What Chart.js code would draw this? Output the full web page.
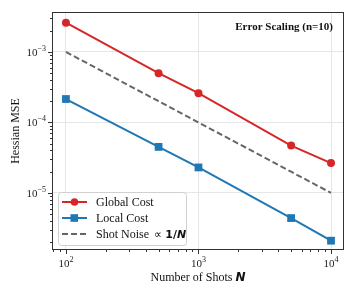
<!DOCTYPE html>
<html>
<head>
<meta charset="utf-8">
<script src="https://cdn.jsdelivr.net/npm/chart.js@4.4.1/dist/chart.umd.min.js"></script>
<style>
  html, body { margin: 0; padding: 0; background: #fff; }
  #wrap { width: 357px; height: 297px; }
</style>
</head>
<body>
<div id="wrap"><canvas id="chart" width="357" height="297"></canvas></div>
<script>
// Error scaling of Hessian MSE vs number of shots
const shots = [100, 500, 1000, 5000, 10000];
const globalCost = [2.6e-3, 5.0e-4, 2.6e-4, 4.7e-5, 2.65e-5];
const localCost = [2.15e-4, 4.5e-5, 2.3e-5, 4.4e-6, 2.1e-6];
const shotNoise = [1e-3, 2e-4, 1e-4, 2e-5, 1e-5];

const xTicks = [100, 1000, 10000];
const xTickExp = ['2', '3', '4'];
const yTicks = [1e-5, 1e-4, 1e-3];
const yTickExp = ['\u22125', '\u22124', '\u22123'];

const RED = '#d62728';
const BLUE = '#1f77b4';
const GRAY = '#666666';
const SERIF = '"Liberation Serif", "DejaVu Serif", serif';
const SANS = '"DejaVu Sans", sans-serif';

const toPoints = (ys) => shots.map((x, i) => ({ x: x, y: ys[i] }));

function isDecade(v) {
    const l = Math.log10(v);
    return Math.abs(l - Math.round(l)) < 1e-9;
}

// draws frame, ticks, labels, titles, legend (matplotlib-like)
const decorPlugin = {
    id: 'decor',
    afterDraw(chart) {
        const ctx = chart.ctx;
        const a = chart.chartArea;
        const xs = chart.scales.x;
        const ys = chart.scales.y;
        ctx.save();

        // frame
        ctx.strokeStyle = '#333';
        ctx.lineWidth = 1;
        ctx.strokeRect(a.left + 0.5, a.top + 0.5, a.right - a.left - 1, a.bottom - a.top - 1);

        // ticks
        ctx.beginPath();
        for (let e = 1; e <= 4; e++) {
            for (let m = 1; m <= 9; m++) {
                const v = m * Math.pow(10, e);
                if (v < xs.min || v > xs.max) continue;
                const px = Math.round(xs.getPixelForValue(v)) + 0.5;
                const len = m === 1 ? 4 : 2;
                ctx.moveTo(px, a.bottom);
                ctx.lineTo(px, a.bottom + len);
            }
        }
        for (let e = -6; e <= -2; e++) {
            for (let m = 1; m <= 9; m++) {
                const v = m * Math.pow(10, e);
                if (v < ys.min || v > ys.max) continue;
                const py = Math.round(ys.getPixelForValue(v)) + 0.5;
                const len = m === 1 ? 4 : 2;
                ctx.moveTo(a.left, py);
                ctx.lineTo(a.left - len, py);
            }
        }
        ctx.stroke();

        // tick labels
        ctx.fillStyle = '#222';
        ctx.textBaseline = 'alphabetic';
        xTicks.forEach((v, i) => {
            const px = xs.getPixelForValue(v);
            ctx.font = '11px ' + SERIF;
            const w1 = ctx.measureText('10').width;
            ctx.font = '8px ' + SERIF;
            const w2 = ctx.measureText(xTickExp[i]).width;
            const x0 = px - (w1 + w2) / 2;
            ctx.font = '11px ' + SERIF;
            ctx.textAlign = 'left';
            ctx.fillText('10', x0, a.bottom + 17);
            ctx.font = '8px ' + SERIF;
            ctx.fillText(xTickExp[i], x0 + w1, a.bottom + 12);
        });
        yTicks.forEach((v, i) => {
            const py = ys.getPixelForValue(v);
            ctx.font = '8px ' + SERIF;
            const w2 = ctx.measureText(yTickExp[i]).width;
            const xr = a.left - 6;
            ctx.textAlign = 'left';
            ctx.fillText(yTickExp[i], xr - w2, py - 1);
            ctx.font = '11px ' + SERIF;
            const w1 = ctx.measureText('10').width;
            ctx.fillText('10', xr - w2 - w1, py + 4);
        });

        // x axis title
        ctx.fillStyle = '#111';
        ctx.font = '12px ' + SERIF;
        const t1 = 'Number of Shots ';
        const tw1 = ctx.measureText(t1).width;
        ctx.font = 'italic bold 12px ' + SANS;
        const tw2 = ctx.measureText('N').width;
        const cx = (a.left + a.right) / 2;
        let x0 = cx - (tw1 + tw2) / 2;
        ctx.textAlign = 'left';
        ctx.font = '12px ' + SERIF;
        ctx.fillText(t1, x0, a.bottom + 31);
        ctx.font = 'italic bold 12px ' + SANS;
        ctx.fillText('N', x0 + tw1, a.bottom + 31);

        // y axis title
        ctx.save();
        ctx.translate(19, (a.top + a.bottom) / 2);
        ctx.rotate(-Math.PI / 2);
        ctx.textAlign = 'center';
        ctx.font = '12px ' + SERIF;
        ctx.fillText('Hessian MSE', 0, 0);
        ctx.restore();

        // annotation title
        ctx.textAlign = 'right';
        ctx.font = 'bold 11px ' + SERIF;
        ctx.fillText('Error Scaling (n=10)', a.right - 11, a.top + 18);

        // legend
        const lx = a.left + 6, ly = 192, lw = 128, lh = 53;
        ctx.beginPath();
        ctx.roundRect(lx + 0.5, ly + 0.5, lw, lh, 3);
        ctx.fillStyle = 'rgba(255,255,255,0.85)';
        ctx.fill();
        ctx.strokeStyle = '#d0d0d0';
        ctx.lineWidth = 1;
        ctx.stroke();

        const items = [
            { label: 'Global Cost', color: RED, marker: 'circle', y: 202 },
            { label: 'Local Cost', color: BLUE, marker: 'square', y: 218 },
            { label: 'Shot Noise', color: GRAY, marker: null, y: 234 }
        ];
        items.forEach(it => {
            ctx.strokeStyle = it.color;
            ctx.lineWidth = 2;
            ctx.setLineDash(it.marker ? [] : [6, 3]);
            ctx.beginPath();
            ctx.moveTo(lx + 4, it.y);
            ctx.lineTo(lx + 29, it.y);
            ctx.stroke();
            ctx.setLineDash([]);
            ctx.fillStyle = it.color;
            if (it.marker === 'circle') {
                ctx.beginPath();
                ctx.arc(lx + 16.5, it.y, 3.8, 0, Math.PI * 2);
                ctx.fill();
            } else if (it.marker === 'square') {
                ctx.fillRect(lx + 12.5, it.y - 3.8, 7.6, 7.6);
            }
            ctx.fillStyle = '#111';
            ctx.textAlign = 'left';
            ctx.font = '12px ' + SERIF;
            ctx.fillText(it.label, lx + 38, it.y + 4);
            if (!it.marker) {
                const w = ctx.measureText(it.label + ' ').width;
                ctx.font = '11px ' + SANS;
                ctx.fillText('\u221d ', lx + 38 + w + 2, it.y + 4);
                const w3 = ctx.measureText('\u221d ').width;
                ctx.font = 'bold 11px ' + SANS;
                ctx.fillText('1/', lx + 38 + w + 2 + w3, it.y + 4);
                const w4 = ctx.measureText('1/').width;
                ctx.font = 'italic bold 11px ' + SANS;
                ctx.fillText('N', lx + 38 + w + 2 + w3 + w4, it.y + 4);
            }
        });

        ctx.restore();
    }
};

const gridColor = (c) => (c.tick && isDecade(c.tick.value)) ? '#e6e6e6' : 'rgba(0,0,0,0)';

new Chart(document.getElementById('chart'), {
    type: 'line',
    data: {
        datasets: [
            {
                label: 'Global Cost',
                data: toPoints(globalCost),
                borderColor: RED,
                backgroundColor: RED,
                borderWidth: 2,
                pointStyle: 'circle',
                pointRadius: 4,
                pointBorderWidth: 0
            },
            {
                label: 'Local Cost',
                data: toPoints(localCost),
                borderColor: BLUE,
                backgroundColor: BLUE,
                borderWidth: 2,
                pointStyle: 'rect',
                pointRadius: 5.5,
                pointBorderWidth: 0
            },
            {
                label: 'Shot Noise',
                data: toPoints(shotNoise),
                borderColor: GRAY,
                borderWidth: 2,
                borderDash: [6, 3],
                pointRadius: 0
            }
        ]
    },
    options: {
        responsive: false,
        animation: false,
        layout: { padding: { left: 52, right: 13, top: 12, bottom: 47 } },
        plugins: { legend: { display: false }, tooltip: { enabled: false } },
        scales: {
            x: {
                type: 'logarithmic',
                min: 78.5,
                max: 12530,
                ticks: { display: false },
                border: { display: false },
                grid: { color: gridColor, drawTicks: false, lineWidth: 1 }
            },
            y: {
                type: 'logarithmic',
                min: 1.55e-6,
                max: 3.69e-3,
                ticks: { display: false },
                border: { display: false },
                grid: { color: gridColor, drawTicks: false, lineWidth: 1 }
            }
        }
    },
    plugins: [decorPlugin]
});
</script>
</body>
</html>
